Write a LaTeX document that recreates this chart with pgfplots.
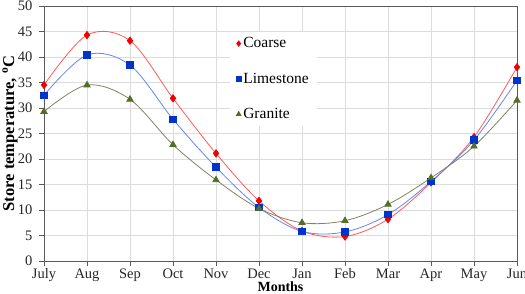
\documentclass[border=0pt]{standalone}
\usepackage{pgfplots}
\pgfplotsset{compat=1.18}
\usepackage{fontspec}
\setmainfont{Liberation Serif}

\definecolor{coarseM}{RGB}{240,0,0}
\definecolor{coarseL}{RGB}{255,90,90}
\definecolor{limeM}{RGB}{0,51,204}
\definecolor{limeL}{RGB}{100,135,235}
\definecolor{graniteM}{RGB}{84,110,40}
\definecolor{graniteL}{RGB}{130,130,100}
\definecolor{gridc}{RGB}{220,220,220}
\definecolor{axisc}{RGB}{90,90,90}

\begin{document}
\begin{tikzpicture}
\begin{axis}[
  scale only axis,
  width=473pt, height=255pt,
  at={(0,0)}, anchor=south west,
  xmin=0, xmax=11, ymin=0, ymax=50,
  xtick={0,...,11},
  xticklabels={July,Aug,Sep,Oct,Nov,Dec,Jan,Feb,Mar,Apr,May,Jun},
  ytick={0,5,...,50},
  grid=major,
  major grid style={gridc, line width=0.8pt},
  axis line style={axisc, line width=0.9pt},
  tick style={axisc, line width=0.9pt},
  tick align=outside,
  major tick length=5pt,
  xtick pos=bottom, ytick pos=left,
  /pgf/number format/assume math mode=true,
  tick label style={font=\fontsize{14.5}{16}\selectfont, text=black!85},
  xticklabel style={yshift=1pt},
  yticklabel style={xshift=-3pt},
  xlabel={Months},
  ylabel={Store temperature, \textsuperscript{o}C},
  every axis x label/.style={at={(axis description cs:0.5,0)}, anchor=north,
    yshift=-20.5pt, inner sep=0.5pt, font=\fontsize{14}{15}\selectfont\bfseries},
  every axis y label/.style={at={(axis description cs:0,0.5)},
    xshift=-34pt, rotate=90, anchor=center, inner sep=1pt,
    font=\fontsize{16.5}{18}\selectfont\bfseries},
  legend style={at={(axis description cs:0.393,0.90)}, anchor=north west,
    draw=none, fill=white, font=\fontsize{15.5}{17}\selectfont,
    row sep=19.5pt, inner xsep=6pt, inner ysep=4pt, cells={anchor=west}},
  legend image code/.code={\draw[#1, only marks, mark size=2.6pt] plot coordinates {(0.15cm,0cm)};},
  clip=false,
]
% Coarse aggregate
\addplot[coarseL, line width=0.8pt, smooth, tension=0.55,
  mark=diamond*, mark size=3.6pt, mark options={coarseM, fill=coarseM, solid}]
  coordinates {(0,34.5) (1,44.3) (2,43.2) (3,31.9) (4,21.1) (5,11.8)
               (6,5.9) (7,4.8) (8,8.2) (9,15.4) (10,24.3) (11,38.0)};
\addlegendentry{Coarse}
% Limestone
\addplot[limeL, line width=0.8pt, smooth, tension=0.55,
  mark=square*, mark size=3.3pt, mark options={limeM, fill=limeM, solid}]
  coordinates {(0,32.5) (1,40.4) (2,38.4) (3,27.8) (4,18.4) (5,10.5)
               (6,5.8) (7,5.7) (8,9.1) (9,15.6) (10,23.7) (11,35.4)};
\addlegendentry{Limestone}
% Granite
\addplot[graniteL, line width=0.8pt, smooth, tension=0.55,
  mark=triangle*, mark size=3.6pt, mark options={graniteM, fill=graniteM, solid}]
  coordinates {(0,29.3) (1,34.5) (2,31.7) (3,22.8) (4,15.9) (5,10.3)
               (6,7.5) (7,7.9) (8,11.1) (9,16.3) (10,22.5) (11,31.5)};
\addlegendentry{Granite}
\end{axis}
\pgfresetboundingbox
\useasboundingbox (-44pt,-32pt) rectangle (481pt,261pt);
\end{tikzpicture}
\end{document}
